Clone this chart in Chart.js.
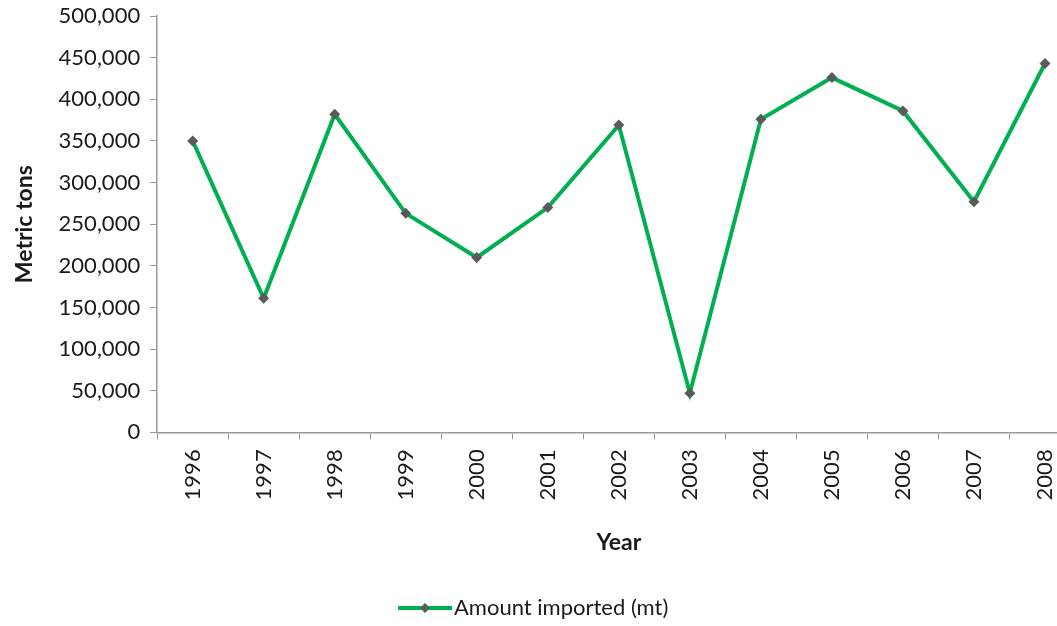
<!DOCTYPE html>
<html>
<head>
<meta charset="utf-8">
<script src="https://cdn.jsdelivr.net/npm/chart.js@4"></script>
<style>
  html, body { margin: 0; padding: 0; background: #fff; overflow: hidden; }
  #wrap { width: 1086px; height: 626px; position: relative; }
</style>
</head>
<body>
<div id="wrap"><canvas id="importChart"></canvas></div>
<script>
const years = ["1996", "1997", "1998", "1999", "2000", "2001", "2002", "2003", "2004", "2005", "2006", "2007", "2008"];
const amountImported = [350000, 161000, 382000, 263000, 210000, 270000, 369000, 47000, 376000, 426000, 386000, 277000, 443000];
const seriesLabel = "Amount imported (mt)";

const FONT = "Lato, 'Open Sans', sans-serif";

// legend drawn by hand: line with diamond marker, as in the original
const lineLegend = {
  id: "lineLegend",
  afterDraw(chart) {
    const ctx = chart.ctx;
    const ds = chart.data.datasets[0];
    const y = 608;
    const x0 = 398, x1 = 452;
    ctx.save();
    ctx.strokeStyle = ds.borderColor;
    ctx.lineWidth = 4;
    ctx.beginPath();
    ctx.moveTo(x0, y);
    ctx.lineTo(x1, y);
    ctx.stroke();
    ctx.fillStyle = ds.pointBackgroundColor;
    const cx = (x0 + x1) / 2, r = 5;
    ctx.beginPath();
    ctx.moveTo(cx, y - r);
    ctx.lineTo(cx + r, y);
    ctx.lineTo(cx, y + r);
    ctx.lineTo(cx - r, y);
    ctx.closePath();
    ctx.fill();
    ctx.fillStyle = "#1a1a1a";
    ctx.font = "22px " + FONT;
    ctx.textBaseline = "middle";
    ctx.fillText(ds.label, x1 + 2, y);
    ctx.restore();
  }
};

const ctx = document.getElementById("importChart").getContext("2d");
new Chart(ctx, {
  type: "line",
  data: {
    labels: years,
    datasets: [
      {
        label: seriesLabel,
        data: amountImported,
        borderColor: "#00b050",
        borderWidth: 4,
        pointStyle: "rectRot",
        pointRadius: 5.5,
        pointBackgroundColor: "#5a5a5a",
        pointBorderColor: "#5a5a5a",
        pointBorderWidth: 0,
        tension: 0,
        fill: false,
      },
    ],
  },
  options: {
    responsive: true,
    maintainAspectRatio: false,
    animation: false,
    layout: {
      padding: { top: 0, bottom: 66, left: 7, right: 0 },
    },
    scales: {
      y: {
        min: 0,
        max: 500000,
        afterFit: (scale) => {
          // keep the top label snug to the edge like the original
          scale.paddingTop = 16;
        },
        ticks: {
          stepSize: 50000,
          color: "#1a1a1a",
          padding: 10,
          font: { family: FONT, size: 22 },
          callback: (v) => v.toLocaleString("en-US"),
        },
        grid: {
          drawOnChartArea: false,
          color: "#9a9a9a",
          tickLength: 7,
        },
        border: { color: "#9a9a9a", width: 1.5 },
        title: {
          display: true,
          text: "Metric tons",
          color: "#1a1a1a",
          font: { family: FONT, size: 23, weight: "bold" },
          padding: { bottom: 10 },
        },
      },
      x: {
        offset: true,
        ticks: {
          color: "#1a1a1a",
          minRotation: 90,
          maxRotation: 90,
          padding: 10,
          font: { family: FONT, size: 22 },
        },
        grid: {
          offset: true,
          drawOnChartArea: false,
          color: "#9a9a9a",
          tickLength: 7,
        },
        border: { color: "#9a9a9a", width: 1.5 },
        title: {
          display: true,
          text: "Year",
          color: "#1a1a1a",
          font: { family: FONT, size: 23, weight: "bold" },
          padding: { top: 18 },
        },
      },
    },
    plugins: {
      legend: { display: false },
      tooltip: { enabled: false },
    },
  },
  plugins: [lineLegend],
});
</script>
</body>
</html>
